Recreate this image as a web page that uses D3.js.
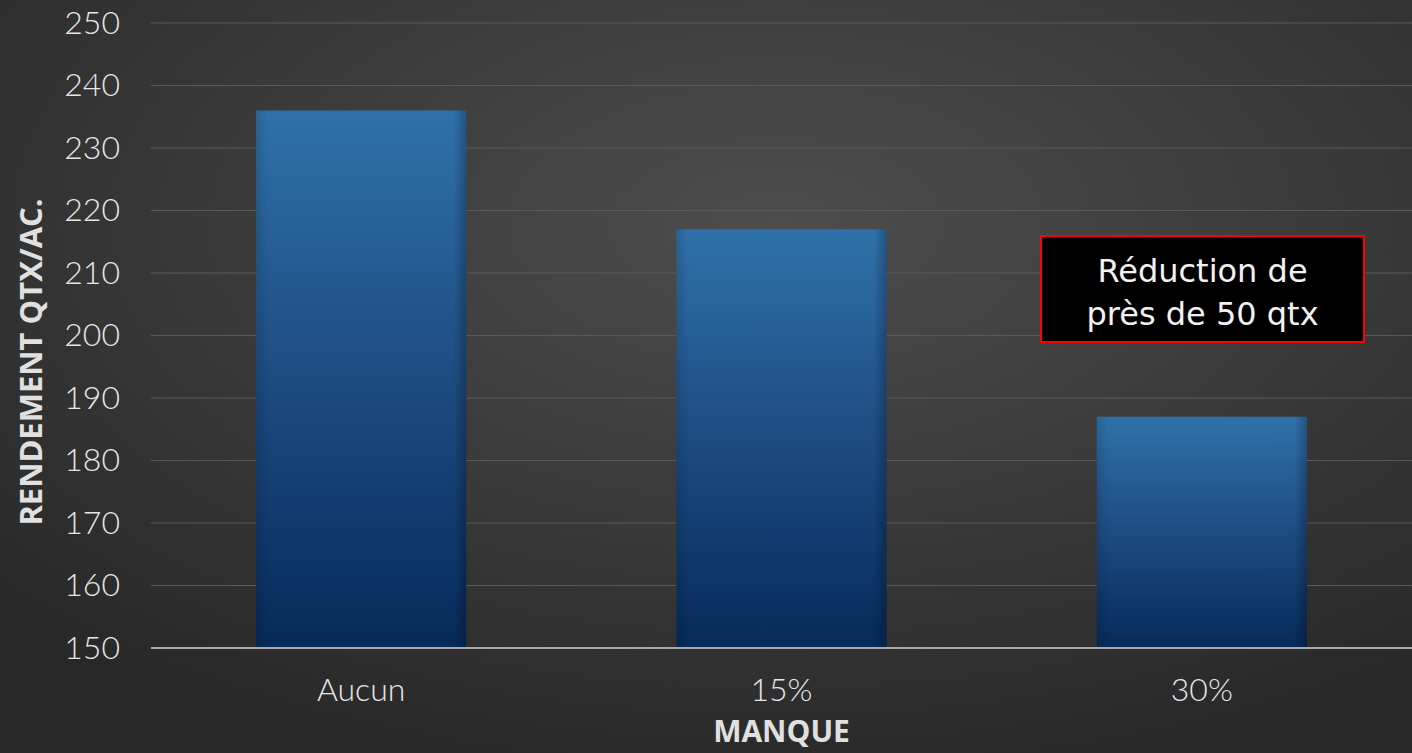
<!DOCTYPE html>
<html><head><meta charset="utf-8">
<script src="https://cdn.jsdelivr.net/npm/d3@7"></script>
<style>html,body{margin:0;padding:0;background:#2b2b2b;overflow:hidden}</style>
</head><body>
<svg id="c" width="1412" height="753"></svg>
<script>
const categories = ["Aucun", "15%", "30%"];
const values = [236, 217, 187];
const yTicks = [150,160,170,180,190,200,210,220,230,240,250];
const yLabel = "RENDEMENT QTX/AC.";
const xLabel = "MANQUE";
const noteLines = ["Réduction de", "près de 50 qtx"];

const W = 1412, H = 753;
const m = {top: 23, right: 0, bottom: 105, left: 151};
const svg = d3.select("#c");
const defs = svg.append("defs");
const bg = defs.append("radialGradient").attr("id","bg").attr("cx","55%").attr("cy","30%").attr("r","75%");
bg.append("stop").attr("offset","0%").attr("stop-color","#4d4d4d");
bg.append("stop").attr("offset","100%").attr("stop-color","#282828");
const bar = defs.append("linearGradient").attr("id","bar").attr("x1",0).attr("y1",0).attr("x2",0).attr("y2",1);
bar.append("stop").attr("offset","0%").attr("stop-color","#2f71aa");
bar.append("stop").attr("offset","45%").attr("stop-color","#1f4f85");
bar.append("stop").attr("offset","100%").attr("stop-color","#062a5a");
const edge = defs.append("linearGradient").attr("id","edge").attr("x1",0).attr("y1",0).attr("x2",1).attr("y2",0);
edge.append("stop").attr("offset","0%").attr("stop-color","#000").attr("stop-opacity",0.12);
edge.append("stop").attr("offset","6%").attr("stop-color","#000").attr("stop-opacity",0);
edge.append("stop").attr("offset","94%").attr("stop-color","#000").attr("stop-opacity",0);
edge.append("stop").attr("offset","100%").attr("stop-color","#000").attr("stop-opacity",0.25);

svg.append("rect").attr("width",W).attr("height",H).attr("fill","url(#bg)");

const x = d3.scaleBand().domain(categories).range([m.left, W - m.right]).paddingInner(0.5).paddingOuter(0.25);
const y = d3.scaleLinear().domain([150,250]).range([H - m.bottom, m.top]);

const tickFont = "Lato, 'Open Sans', sans-serif";

// grid
svg.append("g").selectAll("line").data(yTicks.filter(d=>d>150)).join("line")
  .attr("x1", m.left).attr("x2", W).attr("y1", d=>y(d)).attr("y2", d=>y(d))
  .attr("stroke", "#5a5a5a").attr("stroke-width", 1);

// y axis labels
const yAxis = svg.append("g").attr("transform", `translate(${m.left},0)`)
  .call(d3.axisLeft(y).tickValues(yTicks).tickSize(0).tickPadding(31));
yAxis.select(".domain").remove();
yAxis.selectAll("text").attr("fill","#e6e6e6").style("font-family",tickFont).style("font-weight","300").style("font-size","32px");

// bars
const g = svg.append("g");
g.selectAll("rect.b").data(values).join("rect").attr("class","b")
  .attr("x", (d,i)=>x(categories[i])).attr("width", x.bandwidth())
  .attr("y", d=>y(d)).attr("height", d=>y(150)-y(d))
  .attr("fill","url(#bar)");
g.selectAll("rect.e").data(values).join("rect").attr("class","e")
  .attr("x", (d,i)=>x(categories[i])).attr("width", x.bandwidth())
  .attr("y", d=>y(d)).attr("height", d=>y(150)-y(d))
  .attr("fill","url(#edge)");

// x axis
const xAxis = svg.append("g").attr("transform", `translate(0,${y(150)})`)
  .call(d3.axisBottom(x).tickSize(0));
xAxis.select(".domain").attr("stroke","#a9a9a9").attr("stroke-width",2).attr("d", `M${m.left},0H${W}`);
xAxis.selectAll("text").attr("y", 53).attr("dy", null)
  .attr("fill","#e6e6e6").style("font-family",tickFont).style("font-weight","300").style("font-size","32px");

// axis titles
const titleFont = "'Open Sans', Lato, sans-serif";
svg.append("text").attr("transform", `translate(42,362) rotate(-90)`)
  .attr("text-anchor","middle").attr("fill","#e0e0e0")
  .style("font-family",titleFont).style("font-weight","bold").style("font-size","31px")
  .text(yLabel);
svg.append("text").attr("x", x("15%") + x.bandwidth()/2).attr("y", 742)
  .attr("text-anchor","middle").attr("fill","#e0e0e0")
  .style("font-family",titleFont).style("font-weight","bold").style("font-size","30px")
  .text(xLabel);

// annotation
const bx = 1041, by = 236, bw = 323, bh = 106;
svg.append("rect").attr("x",bx).attr("y",by).attr("width",bw).attr("height",bh)
  .attr("fill","#000").attr("stroke","#ff0000").attr("stroke-width",2);
svg.append("g").selectAll("text").data(noteLines).join("text")
  .attr("x", bx + bw/2).attr("y", (d,i)=> 282 + i*43)
  .attr("text-anchor","middle").attr("fill","#f2f2f2")
  .style("font-family","'DejaVu Sans', sans-serif").style("font-size","32px")
  .text(d=>d);
</script>
</body></html>
